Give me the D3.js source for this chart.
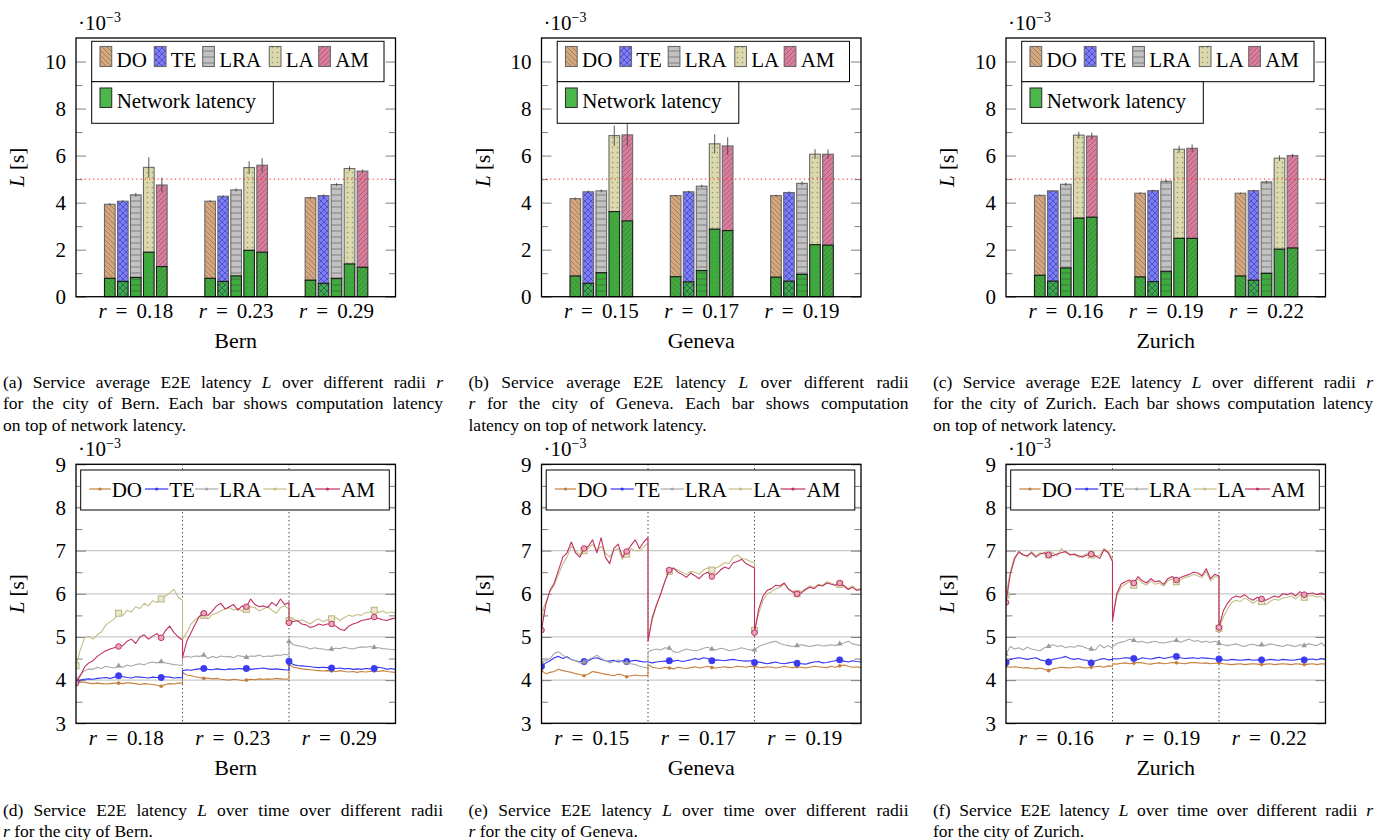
<!DOCTYPE html>
<html><head><meta charset="utf-8">
<script src="https://cdn.jsdelivr.net/npm/d3@7"></script>
<style>
body{margin:0;background:#fff;}
svg{display:block;}
svg text{font-family:"Liberation Serif","DejaVu Serif","Times New Roman",serif;fill:#000;}
</style>
</head><body>
<svg id="c" width="1387" height="840"></svg>
<script>
// ---------------- DATA ----------------
const methods = ["DO","TE","LRA","LA","AM"];
const cities = ["Bern","Geneva","Zurich"];
const bernRadii = ["0.18","0.23","0.29"];
const genevaRadii = ["0.15","0.17","0.19"];
const zurichRadii = ["0.16","0.19","0.22"];
const barYTicks = [0,2,4,6,8,10];
const barYMinor = [1,3,5,7,9];
const lineYTicks = [3,4,5,6,7,8,9];
const lineYMinor = [3.5,4.5,5.5,6.5,7.5,8.5];
const threshold = 5;

// total latency (1e-3 s), per radius group, per method
const bernTotal   = [[3.93,4.06,4.33,5.50,4.75],[4.06,4.27,4.54,5.49,5.59],[4.21,4.30,4.77,5.45,5.34]];
const bernNet     = [[0.78,0.65,0.82,1.89,1.28],[0.78,0.65,0.88,1.97,1.89],[0.70,0.57,0.78,1.39,1.25]];
const bernErr     = [[0.05,0.05,0.08,0.43,0.31],[0.04,0.04,0.07,0.27,0.30],[0.04,0.05,0.06,0.10,0.07]];
const genevaTotal = [[4.17,4.46,4.50,6.85,6.88],[4.30,4.46,4.70,6.50,6.41],[4.30,4.43,4.82,6.06,6.06]];
const genevaNet   = [[0.88,0.57,1.02,3.62,3.22],[0.85,0.63,1.11,2.87,2.81],[0.83,0.66,0.95,2.21,2.19]];
const genevaErr   = [[0.05,0.06,0.06,0.43,0.48],[0.04,0.05,0.06,0.41,0.37],[0.04,0.04,0.08,0.21,0.20]];
const zurichTotal = [[4.31,4.50,4.78,6.87,6.83],[4.40,4.51,4.91,6.27,6.31],[4.40,4.51,4.88,5.89,6.00]];
const zurichNet   = [[0.91,0.66,1.22,3.34,3.38],[0.84,0.64,1.08,2.48,2.48],[0.88,0.70,0.99,2.02,2.07]];
const zurichErr   = [[0.04,0.04,0.07,0.14,0.14],[0.04,0.04,0.06,0.15,0.16],[0.03,0.04,0.06,0.12,0.08]];

// latency over time (1e-3 s): 3 radius segments x 26 samples
const bernDO = [3.94,3.96,3.95,3.93,3.92,3.93,3.92,3.91,3.92,3.93,3.93,3.92,3.94,3.93,3.92,3.90,3.92,3.91,3.90,3.88,3.86,3.90,3.92,3.91,3.93,3.93,
 4.18,4.12,4.10,4.08,4.06,4.04,4.05,4.03,4.04,4.02,4.01,4.00,4.02,4.01,3.99,4.00,4.02,4.01,4.03,4.02,4.03,4.02,4.04,4.03,4.02,4.03,
 4.37,4.30,4.28,4.26,4.25,4.24,4.23,4.22,4.21,4.22,4.21,4.20,4.22,4.20,4.19,4.20,4.18,4.20,4.19,4.20,4.21,4.20,4.22,4.20,4.19,4.18];
const bernTE = [3.97,4.00,4.02,4.03,4.02,4.04,4.05,4.06,4.04,4.07,4.10,4.08,4.06,4.05,4.08,4.07,4.06,4.05,4.07,4.06,4.06,4.08,4.07,4.05,4.06,4.05,
 4.22,4.24,4.23,4.25,4.26,4.27,4.25,4.24,4.26,4.25,4.24,4.26,4.25,4.27,4.26,4.27,4.25,4.26,4.27,4.28,4.26,4.25,4.26,4.25,4.24,4.23,
 4.44,4.36,4.34,4.33,4.32,4.31,4.30,4.29,4.30,4.29,4.28,4.27,4.28,4.26,4.27,4.25,4.26,4.25,4.27,4.26,4.27,4.30,4.28,4.25,4.27,4.25];
const bernLRA = [4.00,4.12,4.22,4.26,4.25,4.30,4.27,4.32,4.30,4.28,4.33,4.30,4.35,4.32,4.36,4.38,4.35,4.40,4.42,4.40,4.43,4.40,4.38,4.36,4.35,4.34,
 4.52,4.55,4.53,4.56,4.55,4.58,4.50,4.55,4.52,4.56,4.54,4.55,4.52,4.57,4.55,4.53,4.56,4.55,4.58,4.54,4.56,4.55,4.58,4.57,4.60,4.58,
 4.90,4.82,4.80,4.78,4.76,4.72,4.75,4.73,4.72,4.70,4.72,4.74,4.73,4.76,4.74,4.72,4.75,4.77,4.76,4.78,4.76,4.75,4.73,4.72,4.71,4.70];
const bernLA = [4.33,4.70,4.98,5.01,4.95,5.05,5.12,5.28,5.35,5.42,5.55,5.50,5.62,5.58,5.70,5.66,5.78,5.72,5.84,5.80,5.88,5.95,6.02,6.10,5.92,5.85,
 4.95,5.10,5.30,5.40,5.48,5.50,5.42,5.52,5.55,5.60,5.65,5.68,5.62,5.66,5.60,5.64,5.70,5.68,5.60,5.65,5.70,5.62,5.55,5.68,5.72,5.65,
 5.38,5.42,5.36,5.40,5.35,5.30,5.38,5.42,5.35,5.40,5.42,5.45,5.38,5.45,5.50,5.48,5.52,5.50,5.56,5.58,5.62,5.57,5.60,5.55,5.58,5.55];
const bernAM = [3.93,4.10,4.30,4.40,4.45,4.55,4.62,4.68,4.72,4.75,4.78,4.80,4.90,4.95,4.85,5.00,5.05,4.95,5.02,5.08,4.98,5.15,5.25,5.10,5.00,4.93,
 4.52,4.90,5.10,5.30,5.48,5.55,5.50,5.60,5.72,5.78,5.65,5.70,5.75,5.62,5.72,5.70,5.88,5.75,5.70,5.72,5.68,5.80,5.72,5.88,5.75,5.80,
 5.33,5.36,5.38,5.30,5.28,5.22,5.25,5.30,5.27,5.30,5.30,5.25,5.18,5.15,5.25,5.30,5.33,5.38,5.40,5.42,5.46,5.43,5.40,5.38,5.42,5.44];

const genevaDO = [4.22,4.15,4.18,4.20,4.25,4.22,4.20,4.18,4.15,4.13,4.10,4.14,4.20,4.18,4.16,4.14,4.12,4.10,4.14,4.12,4.08,4.10,4.12,4.10,4.10,4.11,
 4.36,4.30,4.28,4.27,4.30,4.28,4.26,4.30,4.28,4.27,4.29,4.31,4.28,4.30,4.32,4.29,4.28,4.30,4.31,4.29,4.30,4.32,4.31,4.30,4.32,4.31,
 4.32,4.30,4.29,4.31,4.30,4.28,4.30,4.32,4.30,4.29,4.31,4.30,4.28,4.30,4.32,4.31,4.30,4.29,4.32,4.30,4.33,4.35,4.32,4.30,4.31,4.29];
const genevaTE = [4.32,4.40,4.45,4.52,4.55,4.50,4.54,4.48,4.45,4.42,4.43,4.45,4.50,4.52,4.48,4.45,4.44,4.46,4.42,4.45,4.43,4.44,4.46,4.44,4.42,4.43,
 4.42,4.40,4.42,4.43,4.44,4.45,4.44,4.46,4.43,4.45,4.47,4.50,4.48,4.52,4.50,4.45,4.47,4.46,4.45,4.47,4.48,4.46,4.45,4.44,4.45,4.44,
 4.41,4.42,4.40,4.38,4.40,4.42,4.39,4.38,4.40,4.42,4.39,4.38,4.37,4.40,4.42,4.43,4.40,4.41,4.43,4.45,4.47,4.44,4.42,4.45,4.43,4.42];
const genevaLRA = [4.42,4.45,4.50,4.62,4.66,4.58,4.52,4.48,4.45,4.40,4.42,4.48,4.52,4.58,4.50,4.45,4.40,4.43,4.47,4.42,4.40,4.38,4.36,4.32,4.30,4.28,
 4.65,4.70,4.72,4.70,4.75,4.74,4.66,4.64,4.68,4.72,4.70,4.68,4.70,4.74,4.76,4.72,4.70,4.74,4.72,4.68,4.70,4.72,4.75,4.72,4.70,4.70,
 4.70,4.78,4.82,4.85,4.88,4.90,4.85,4.82,4.80,4.78,4.80,4.82,4.80,4.78,4.80,4.82,4.79,4.80,4.82,4.80,4.84,4.86,4.90,4.84,4.82,4.80];
const genevaLA = [5.55,5.80,6.05,6.20,6.45,6.70,6.85,7.10,7.00,6.90,7.00,7.05,7.15,7.00,7.10,6.95,6.85,7.00,7.05,6.80,6.92,7.05,7.00,7.00,7.08,7.18,
 4.95,5.40,5.72,6.00,6.30,6.52,6.58,6.55,6.50,6.45,6.52,6.50,6.45,6.55,6.60,6.55,6.60,6.65,6.72,6.70,6.85,6.90,6.82,6.80,6.75,6.72,
 5.15,5.55,5.85,6.00,6.05,6.12,6.15,6.22,6.12,6.02,6.00,6.05,6.12,6.18,6.15,6.22,6.20,6.28,6.25,6.20,6.22,6.20,6.12,6.18,6.10,6.12];
const genevaAM = [5.16,5.75,6.08,6.25,6.55,6.85,6.95,7.20,6.95,6.85,7.05,7.10,7.25,6.95,7.30,6.85,6.70,7.05,7.15,6.85,6.98,7.12,7.25,7.05,7.20,7.30,
 4.90,5.45,5.75,6.00,6.30,6.55,6.60,6.50,6.45,6.38,6.48,6.42,6.35,6.45,6.50,6.40,6.45,6.55,6.62,6.58,6.72,6.75,6.80,6.70,6.65,6.60,
 5.10,5.65,5.95,6.08,6.12,6.20,6.18,6.25,6.10,6.05,6.00,6.02,6.10,6.15,6.12,6.20,6.18,6.25,6.22,6.20,6.25,6.18,6.10,6.15,6.08,6.10];

const zurichDO = [4.32,4.30,4.31,4.30,4.28,4.29,4.27,4.26,4.28,4.25,4.22,4.26,4.28,4.30,4.29,4.28,4.30,4.31,4.29,4.28,4.30,4.31,4.32,4.30,4.33,4.32,
 4.38,4.37,4.39,4.40,4.38,4.39,4.41,4.40,4.38,4.37,4.39,4.40,4.38,4.39,4.41,4.40,4.39,4.38,4.40,4.41,4.40,4.39,4.40,4.38,4.39,4.40,
 4.40,4.38,4.37,4.36,4.37,4.38,4.36,4.37,4.38,4.37,4.36,4.37,4.38,4.36,4.37,4.38,4.37,4.36,4.38,4.37,4.36,4.37,4.38,4.36,4.38,4.37];
const zurichTE = [4.41,4.48,4.50,4.52,4.50,4.48,4.50,4.52,4.47,4.45,4.42,4.48,4.50,4.52,4.55,4.50,4.48,4.50,4.47,4.46,4.40,4.45,4.48,4.50,4.47,4.48,
 4.50,4.49,4.50,4.52,4.51,4.50,4.48,4.52,4.50,4.49,4.51,4.53,4.50,4.52,4.54,4.55,4.52,4.50,4.51,4.52,4.50,4.52,4.51,4.50,4.49,4.50,
 4.49,4.47,4.46,4.48,4.47,4.46,4.47,4.48,4.46,4.47,4.47,4.46,4.48,4.47,4.46,4.48,4.47,4.46,4.47,4.49,4.47,4.48,4.49,4.47,4.50,4.48];
const zurichLRA = [4.60,4.78,4.72,4.75,4.70,4.76,4.72,4.70,4.68,4.75,4.78,4.82,4.78,4.80,4.75,4.78,4.76,4.80,4.78,4.74,4.72,4.70,4.82,4.75,4.80,4.74,
 4.78,4.85,4.88,4.90,4.95,4.92,4.88,4.90,4.86,4.88,4.90,4.87,4.86,4.88,4.90,4.92,4.88,4.92,4.95,4.90,4.92,4.88,4.90,4.87,4.90,4.88,
 4.85,4.82,4.80,4.82,4.84,4.80,4.78,4.82,4.83,4.80,4.82,4.80,4.84,4.82,4.80,4.78,4.82,4.80,4.78,4.82,4.80,4.84,4.82,4.80,4.86,4.78];
const zurichLA = [5.97,6.50,6.85,6.95,6.92,6.85,6.98,6.88,6.95,6.92,6.90,6.95,6.88,7.05,6.95,6.92,6.90,6.85,6.88,6.92,6.90,6.85,6.90,7.05,6.98,6.80,
 5.50,5.95,6.15,6.22,6.28,6.20,6.35,6.25,6.20,6.30,6.22,6.25,6.18,6.30,6.35,6.28,6.32,6.38,6.40,6.45,6.42,6.38,6.52,6.30,6.40,6.38,
 5.20,5.45,5.65,5.80,5.85,5.82,5.90,5.85,5.78,5.85,5.82,5.75,5.82,5.88,5.85,5.90,5.92,5.95,5.88,5.98,5.92,5.95,5.96,5.92,5.95,5.82];
const zurichAM = [5.80,6.45,6.80,6.98,6.90,6.88,6.95,6.85,6.92,6.95,6.90,6.88,6.92,6.95,6.98,6.90,6.92,6.88,6.85,6.90,6.92,6.88,6.82,7.02,6.95,6.75,
 5.36,6.00,6.22,6.28,6.32,6.25,6.40,6.30,6.25,6.35,6.28,6.30,6.22,6.35,6.40,6.32,6.38,6.42,6.45,6.50,6.48,6.42,6.58,6.35,6.45,6.42,
 5.22,5.60,5.78,5.90,5.95,5.92,5.98,5.90,5.85,5.92,5.88,5.85,5.90,5.95,5.92,6.00,5.98,6.02,5.95,6.05,5.98,6.00,6.02,5.98,6.02,5.98];

const barCaptions = [
 ["(a) Service average E2E latency *L* over different radii *r*","for the city of Bern. Each bar shows computation latency","on top of network latency."],
 ["(b) Service average E2E latency *L* over different radii","*r* for the city of Geneva. Each bar shows computation","latency on top of network latency."],
 ["(c) Service average E2E latency *L* over different radii *r*","for the city of Zurich. Each bar shows computation latency","on top of network latency."]];
const lineCaptions = [
 ["(d) Service E2E latency *L* over time over different radii","*r* for the city of Bern."],
 ["(e) Service E2E latency *L* over time over different radii","*r* for the city of Geneva."],
 ["(f) Service E2E latency *L* over time over different radii *r*","for the city of Zurich."]];

// ---------------- STYLE / LAYOUT ----------------
const FONT = '"Liberation Serif","DejaVu Serif","Times New Roman",serif';
const PX0 = [76, 541.5, 1006], PW = 319.5;
const BT = 38, BB = 296.7, LT = 464.3, LB = 723.3;
const fillCol = {DO:"#d5a77f", TE:"#7d7df5", LRA:"#c2c2c2", LA:"#dcd9ad", AM:"#d77e9d"};
const patCol = {DO:"rgba(110,75,50,0.55)", TE:"rgba(30,30,150,0.6)", LRA:"rgba(70,70,70,0.55)", LA:"rgba(110,110,80,0.6)", AM:"rgba(120,40,75,0.5)"};
const netCol = "#3dab3d";
const lineCol = {DO:"#c47f3c", TE:"#3434f5", LRA:"#a8a8a8", LA:"#c3bd85", AM:"#c0315f"};

const svg = d3.select("#c");
const defs = svg.append("defs");

function pattern(id, size, draw){
  const p = defs.append("pattern").attr("id", id).attr("patternUnits","userSpaceOnUse")
    .attr("width", size).attr("height", size);
  draw(p);
}
pattern("pDO",5,p=>p.append("path").attr("d","M-1,-1L6,6M-1,4L1,6M4,-1L6,1").attr("stroke",patCol.DO).attr("stroke-width",0.8));
pattern("pAM",5,p=>p.append("path").attr("d","M-1,6L6,-1M-1,1L1,-1M4,6L6,4").attr("stroke",patCol.AM).attr("stroke-width",0.8));
pattern("pTE",6,p=>p.append("path").attr("d","M-1,-1L7,7M-1,5L1,7M5,-1L7,1M-1,7L7,-1M-1,1L1,-1M5,7L7,5").attr("stroke",patCol.TE).attr("stroke-width",0.8));
pattern("pLRA",6,p=>p.append("path").attr("d","M0,3L6,3").attr("stroke",patCol.LRA).attr("stroke-width",1));
pattern("pLA",5,p=>p.append("circle").attr("cx",2.5).attr("cy",2.5).attr("r",0.85).attr("fill",patCol.LA));

const clipId = (i)=>"clip"+i;

function yAxes(g, y, x0, major, minor){
  const left = g.append("g").attr("transform",`translate(${x0},0)`)
    .call(d3.axisLeft(y).tickValues(major).tickSize(-10).tickPadding(10).tickFormat(d3.format("d")));
  left.attr("font-family",FONT);
  left.select(".domain").remove();
  left.selectAll("line").attr("stroke","#808080").attr("stroke-width",1);
  left.selectAll("text").attr("font-size",21).attr("fill","#000");
  const lm = g.append("g").attr("transform",`translate(${x0},0)`)
    .call(d3.axisLeft(y).tickValues(minor).tickSize(-6.5).tickFormat(""));
  lm.select(".domain").remove();
  lm.selectAll("line").attr("stroke","#808080");
  const right = g.append("g").attr("transform",`translate(${x0+PW},0)`)
    .call(d3.axisRight(y).tickValues(major).tickSize(-10).tickFormat(""));
  right.select(".domain").remove();
  right.selectAll("line").attr("stroke","#808080");
  const rm = g.append("g").attr("transform",`translate(${x0+PW},0)`)
    .call(d3.axisRight(y).tickValues(minor).tickSize(-6.5).tickFormat(""));
  rm.select(".domain").remove();
  rm.selectAll("line").attr("stroke","#808080");
}

function txt(g){ return g.append("text").attr("font-family",FONT).attr("fill","#000"); }

function commonLabels(g, x0, top, bottom){
  const t = txt(g).attr("transform",`translate(${x0-52},${(top+bottom)/2}) rotate(-90)`)
    .attr("text-anchor","middle").attr("font-size",21);
  t.append("tspan").attr("font-style","italic").text("L");
  t.append("tspan").text(" [s]");
  const s = txt(g).attr("x",x0+2).attr("y",top-8).attr("font-size",21);
  s.append("tspan").text("·10");
  s.append("tspan").attr("font-size",14).attr("dy",-8).text("−3");
}

function rLabel(g, x, y, r){
  const t = txt(g).attr("x",x).attr("y",y).attr("text-anchor","middle").attr("font-size",21);
  t.append("tspan").attr("font-style","italic").text("r");
  t.append("tspan").attr("dx",9).text("=");
  t.append("tspan").attr("dx",9).text(r);
}

function caption(x, y0, lines, nJust){
  const Wc = 440;
  lines.forEach((ln, li)=>{
    const y = y0 + li*21.6;
    const words = ln.split(" ");
    const nodes = words.map(w=>{
      const it = /^\*.*\*$/.test(w);
      const tx = it ? w.slice(1,-1) : w;
      const n = txt(svg).attr("y",y).attr("font-size",17.5).attr("font-style", it?"italic":"normal").text(tx);
      return {n, w: n.node().getComputedTextLength()};
    });
    const sum = d3.sum(nodes, d=>d.w);
    const gap = (li < nJust && nodes.length>1) ? (Wc - sum)/(nodes.length-1) : 4.4;
    let cx = x;
    nodes.forEach(d=>{ d.n.attr("x",cx); cx += d.w + gap; });
  });
}

// ---------------- BAR PANELS ----------------
const barSets = [
  [bernRadii, bernTotal, bernNet, bernErr],
  [genevaRadii, genevaTotal, genevaNet, genevaErr],
  [zurichRadii, zurichTotal, zurichNet, zurichErr]];

barSets.forEach(([radii, tot, net, err], p)=>{
  const x0 = PX0[p], x1 = x0 + PW;
  const g = svg.append("g");
  const y = d3.scaleLinear().domain([0,11]).range([BB,BT]);
  const xg = d3.scalePoint().domain(radii).range([x0+59.8, x0+260.5]);
  const xb = d3.scaleBand().domain(methods).range([-32.5,32.5]).paddingInner(0.18).paddingOuter(0.09);
  const bw = xb.bandwidth();

  yAxes(g, y, x0, barYTicks, barYMinor);

  radii.forEach((r, gi)=>{
    methods.forEach((m, mi)=>{
      const bx = xg(r) + xb(m);
      const T = tot[gi][mi], N = net[gi][mi], E = err[gi][mi];
      g.append("rect").attr("x",bx).attr("y",y(T)).attr("width",bw).attr("height",y(N)-y(T)).attr("fill",fillCol[m]);
      g.append("rect").attr("x",bx).attr("y",y(T)).attr("width",bw).attr("height",y(N)-y(T)).attr("fill",`url(#p${m})`)
        .attr("stroke","#6a6a6a").attr("stroke-width",1.1);
      g.append("rect").attr("x",bx).attr("y",y(N)).attr("width",bw).attr("height",y(0)-y(N)).attr("fill",netCol);
      g.append("rect").attr("x",bx).attr("y",y(N)).attr("width",bw).attr("height",y(0)-y(N)).attr("fill",`url(#p${m})`)
        .attr("stroke","#1a1a1a").attr("stroke-width",1.1);
      g.append("line").attr("x1",bx+bw/2).attr("x2",bx+bw/2).attr("y1",y(T-E)).attr("y2",y(T+E))
        .attr("stroke","#4a4a4a").attr("stroke-width",1.1).attr("opacity",0.85);
    });
    rLabel(g, xg(r), BB+21.5, r);
  });

  g.append("line").attr("x1",x0).attr("x2",x1).attr("y1",y(threshold)).attr("y2",y(threshold))
    .attr("stroke","#ff2a2a").attr("stroke-width",1.2).attr("stroke-dasharray","1.2,3.1").attr("opacity",0.85);

  const lg = g.append("g");
  lg.append("rect").attr("x",x0+15.7).attr("y",41.3).attr("width",292.3).attr("height",40.4).attr("fill","#fff").attr("stroke","#000").attr("stroke-width",1);
  lg.append("rect").attr("x",x0+15.7).attr("y",81.7).attr("width",181.6).attr("height",41.6).attr("fill","#fff").attr("stroke","#000").attr("stroke-width",1);
  const sw = [24,78.3,126.7,193.3,242.7];
  methods.forEach((m,i)=>{
    lg.append("rect").attr("x",x0+sw[i]).attr("y",46.5).attr("width",11.7).attr("height",20).attr("fill",fillCol[m]);
    lg.append("rect").attr("x",x0+sw[i]).attr("y",46.5).attr("width",11.7).attr("height",20).attr("fill",`url(#p${m})`).attr("stroke","#6a6a6a").attr("stroke-width",1.1);
    txt(lg).attr("x",x0+sw[i]+16.5).attr("y",66.5).attr("font-size",21).text(m);
  });
  lg.append("rect").attr("x",x0+24).attr("y",88).attr("width",11.7).attr("height",19.5).attr("fill","#4cb84c").attr("stroke","#333").attr("stroke-width",1.1);
  txt(lg).attr("x",x0+40.7).attr("y",108).attr("font-size",21).text("Network latency");

  g.append("rect").attr("x",x0).attr("y",BT).attr("width",PW).attr("height",BB-BT).attr("fill","none").attr("stroke","#000").attr("stroke-width",1.3);
  commonLabels(g, x0, BT, BB);
  txt(g).attr("x",x0+PW/2).attr("y",BB+51.5).attr("text-anchor","middle").attr("font-size",22).text(cities[p]);
  caption(x0-73, 387.5, barCaptions[p], 2);
});

// ---------------- LINE PANELS ----------------
const lineSets = [
  [bernRadii, {DO:bernDO, TE:bernTE, LRA:bernLRA, LA:bernLA, AM:bernAM}],
  [genevaRadii, {DO:genevaDO, TE:genevaTE, LRA:genevaLRA, LA:genevaLA, AM:genevaAM}],
  [zurichRadii, {DO:zurichDO, TE:zurichTE, LRA:zurichLRA, LA:zurichLA, AM:zurichAM}]];
const SEG = 26;

function drawMarker(g, m, cx, cy, small){
  if (small){
    g.append("circle").attr("cx",cx).attr("cy",cy).attr("r",1.6).attr("fill",lineCol[m]);
    return;
  }
  if (m==="DO") g.append("circle").attr("cx",cx).attr("cy",cy).attr("r",1.8).attr("fill",lineCol.DO);
  else if (m==="TE") g.append("circle").attr("cx",cx).attr("cy",cy).attr("r",3.2).attr("fill","#3a3af0").attr("stroke","#3a3af0").attr("stroke-width",0.6);
  else if (m==="LRA") g.append("path").attr("transform",`translate(${cx},${cy})`).attr("d",d3.symbol(d3.symbolTriangle,14)()).attr("fill","#9a9a9a");
  else if (m==="LA") g.append("rect").attr("x",cx-3).attr("y",cy-3).attr("width",6).attr("height",6).attr("fill","#ece8cf").attr("stroke","#b9b37a").attr("stroke-width",1);
  else g.append("circle").attr("cx",cx).attr("cy",cy).attr("r",2.8).attr("fill","#e9a8bf").attr("stroke","#c0315f").attr("stroke-width",1);
}

lineSets.forEach(([radii, series], p)=>{
  const x0 = PX0[p], x1 = x0 + PW;
  const g = svg.append("g");
  const x = d3.scaleLinear().domain([0,3]).range([x0, x1]);
  const y = d3.scaleLinear().domain([3,9]).range([LB, LT]);

  defs.append("clipPath").attr("id",clipId(p)).append("rect").attr("x",x0).attr("y",LT).attr("width",PW).attr("height",LB-LT);

  g.append("g").selectAll("line").data(lineYTicks).join("line")
    .attr("x1",x0).attr("x2",x1).attr("y1",d=>y(d)).attr("y2",d=>y(d)).attr("stroke","#c8c8c8").attr("stroke-width",1.3);
  yAxes(g, y, x0, lineYTicks, lineYMinor);

  g.append("g").selectAll("line").data([1,2]).join("line")
    .attr("x1",d=>x(d)).attr("x2",d=>x(d)).attr("y1",LT).attr("y2",LB)
    .attr("stroke","#000").attr("stroke-width",1).attr("stroke-dasharray","1,3");

  const plot = g.append("g").attr("clip-path",`url(#${clipId(p)})`);
  methods.forEach(m=>{
    const pts = series[m].map((v,i)=>{
      const s = Math.floor(i/SEG), j = i % SEG;
      return {t: s + j/(SEG-1), v, j};
    });
    plot.append("path").datum(pts)
      .attr("d", d3.line().x(d=>x(d.t)).y(d=>y(d.v)))
      .attr("fill","none").attr("stroke",lineCol[m]).attr("stroke-width",1.1).attr("stroke-linejoin","round");
    pts.forEach(d=>{
      const q = d.t/0.4;
      if (d.j < SEG-1 && Math.abs(q-Math.round(q))<1e-6) drawMarker(plot, m, x(d.t), y(d.v), false);
    });
  });

  const lg = g.append("g");
  lg.append("rect").attr("x",x0+4.7).attr("y",470).attr("width",308.6).attr("height",40).attr("fill","#fff").attr("stroke","#000").attr("stroke-width",1);
  const ent = [[13.3,34.7,35.7],[69,92.3,93.3],[119,142.3,143.3],[187.3,210.7,211.7],[239,264,265]];
  methods.forEach((m,i)=>{
    const [a,b,tx] = ent[i];
    lg.append("line").attr("x1",x0+a).attr("x2",x0+b).attr("y1",489).attr("y2",489).attr("stroke",lineCol[m]).attr("stroke-width",1.2);
    drawMarker(lg, m, x0+(a+b)/2, 489, true);
    txt(lg).attr("x",x0+tx).attr("y",496.5).attr("font-size",21).text(m);
  });

  radii.forEach((r,k)=> rLabel(g, x(k+0.5)-3, LB+22, r));
  g.append("rect").attr("x",x0).attr("y",LT).attr("width",PW).attr("height",LB-LT).attr("fill","none").attr("stroke","#000").attr("stroke-width",1.3);
  commonLabels(g, x0, LT, LB);
  txt(g).attr("x",x0+PW/2).attr("y",LB+52).attr("text-anchor","middle").attr("font-size",22).text(cities[p]);
  caption(x0-73, 815.5, lineCaptions[p], 1);
});
</script>
</body></html>
